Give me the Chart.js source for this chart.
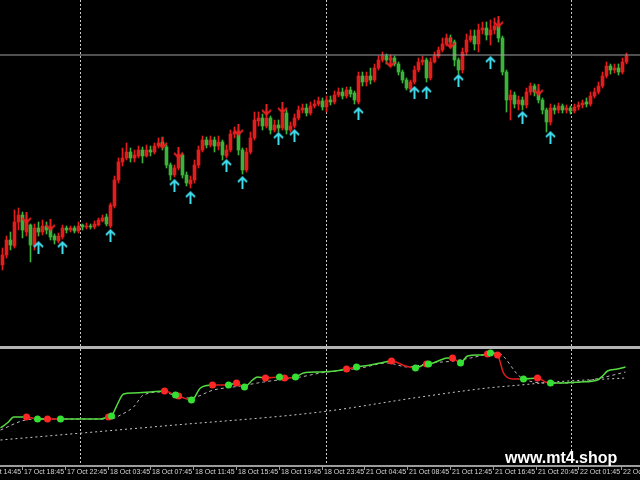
<!DOCTYPE html>
<html>
<head>
<meta charset="utf-8">
<script src="https://cdn.jsdelivr.net/npm/chart.js@4"></script>
<style>
  html, body { margin: 0; padding: 0; background: #000; overflow: hidden; }
  canvas { display: block; }
  #sep { height: 3px; background: #b4b4b4; }
</style>
</head>
<body>
<canvas id="main" width="640" height="346"></canvas>
<div id="sep"></div>
<canvas id="ind" width="640" height="131"></canvas>
<script>
// --- price bars (M15) ---
const opens = [
  100.80,100.90,101.05,100.99,101.23,101.30,101.13,101.20,100.99,101.17,
  101.13,101.19,101.17,101.09,101.04,101.08,101.17,101.15,101.17,101.14,
  101.20,101.18,101.19,101.18,101.20,101.24,101.28,101.19,101.39,101.65,
  101.83,101.87,101.93,101.87,101.89,101.95,101.89,101.95,101.93,101.99,
  102.03,101.98,101.80,101.70,101.77,101.90,101.70,101.61,101.65,101.80,
  101.95,102.05,102.00,102.05,101.99,102.03,101.89,101.95,102.11,102.13,
  101.95,101.75,101.93,102.07,102.24,102.27,102.19,102.27,102.15,102.20,
  102.17,102.32,102.15,102.19,102.27,102.35,102.37,102.32,102.39,102.41,
  102.44,102.38,102.45,102.43,102.50,102.53,102.49,102.55,102.52,102.43,
  102.69,102.63,102.69,102.65,102.77,102.85,102.89,102.85,102.87,102.81,
  102.73,102.65,102.56,102.63,102.75,102.83,102.85,102.67,102.83,102.89,
  102.95,103.01,103.07,103.03,102.85,102.75,102.93,103.05,103.09,103.01,
  103.15,103.17,103.10,103.15,103.19,103.07,102.73,102.45,102.50,102.41,
  102.45,102.40,102.53,102.59,102.53,102.45,102.35,102.23,102.37,102.35,
  102.39,102.35,102.37,102.34,102.38,102.40,102.43,102.41,102.49,102.53,
  102.59,102.69,102.79,102.75,102.77,102.73,102.83
];
const highs = [
  100.97,101.09,101.13,101.35,101.37,101.33,101.30,101.21,101.21,101.23,
  101.25,101.23,101.19,101.11,101.12,101.20,101.19,101.19,101.19,101.23,
  101.21,101.22,101.21,101.24,101.27,101.30,101.31,101.42,101.69,101.87,
  101.97,102.02,101.97,101.95,101.99,101.98,102.00,101.99,102.02,102.07,
  102.08,102.00,101.82,101.80,101.95,101.92,101.73,101.69,101.85,101.99,
  102.09,102.08,102.09,102.08,102.09,102.05,102.00,102.15,102.18,102.15,
  101.97,101.97,102.13,102.33,102.33,102.31,102.35,102.29,102.25,102.25,
  102.37,102.35,102.23,102.31,102.39,102.41,102.41,102.43,102.45,102.48,
  102.47,102.49,102.49,102.54,102.57,102.57,102.58,102.58,102.54,102.73,
  102.73,102.73,102.77,102.81,102.89,102.93,102.91,102.90,102.89,102.83,
  102.75,102.67,102.65,102.79,102.87,102.89,102.87,102.87,102.93,102.98,
  103.07,103.11,103.10,103.05,102.87,102.97,103.11,103.15,103.15,103.21,
  103.23,103.23,103.25,103.27,103.25,103.09,102.75,102.55,102.53,102.49,
  102.48,102.57,102.62,102.61,102.56,102.47,102.37,102.41,102.40,102.42,
  102.41,102.40,102.39,102.41,102.43,102.45,102.47,102.53,102.57,102.63,
  102.73,102.83,102.81,102.81,102.81,102.87,102.92
];
const lows = [
  100.75,100.87,100.95,100.97,101.15,101.07,101.09,100.83,100.95,101.09,
  101.10,101.11,101.05,101.01,101.02,101.06,101.12,101.13,101.12,101.12,
  101.15,101.16,101.16,101.16,101.19,101.23,101.19,101.17,101.37,101.62,
  101.79,101.85,101.83,101.83,101.87,101.82,101.88,101.89,101.91,101.97,
  101.95,101.77,101.65,101.68,101.75,101.67,101.59,101.57,101.62,101.77,
  101.93,101.97,101.98,101.93,101.95,101.85,101.87,101.93,102.07,101.90,
  101.71,101.73,101.91,102.05,102.19,102.15,102.17,102.11,102.13,102.13,
  102.15,102.11,102.13,102.17,102.25,102.32,102.29,102.30,102.37,102.39,
  102.35,102.33,102.40,102.41,102.48,102.46,102.47,102.48,102.41,102.41,
  102.59,102.59,102.61,102.63,102.75,102.83,102.81,102.81,102.79,102.70,
  102.62,102.55,102.53,102.61,102.73,102.80,102.63,102.65,102.82,102.87,
  102.93,102.99,102.97,102.79,102.71,102.72,102.90,103.03,102.95,102.93,
  103.11,103.05,103.00,103.11,103.03,102.70,102.33,102.25,102.37,102.35,
  102.35,102.37,102.50,102.49,102.42,102.31,102.13,102.20,102.31,102.32,
  102.32,102.32,102.31,102.32,102.35,102.37,102.38,102.39,102.47,102.51,
  102.57,102.67,102.71,102.72,102.70,102.71,102.81
];
const closes = [
  100.90,101.05,101.00,101.23,101.30,101.15,101.23,101.00,101.17,101.13,
  101.19,101.15,101.08,101.05,101.09,101.17,101.15,101.17,101.14,101.19,
  101.18,101.19,101.18,101.21,101.25,101.27,101.21,101.40,101.65,101.83,
  101.87,101.93,101.87,101.90,101.95,101.89,101.95,101.93,101.99,102.02,
  101.98,101.80,101.70,101.77,101.90,101.70,101.62,101.65,101.80,101.95,
  102.05,102.00,102.05,101.99,102.03,101.90,101.95,102.11,102.13,101.95,
  101.75,101.93,102.07,102.25,102.27,102.19,102.27,102.15,102.20,102.17,
  102.32,102.15,102.19,102.27,102.35,102.37,102.32,102.39,102.41,102.44,
  102.38,102.45,102.43,102.50,102.53,102.49,102.55,102.51,102.45,102.69,
  102.63,102.69,102.65,102.77,102.85,102.89,102.85,102.87,102.81,102.73,
  102.65,102.57,102.63,102.75,102.83,102.85,102.67,102.83,102.89,102.95,
  103.01,103.07,103.03,102.85,102.75,102.93,103.05,103.09,103.01,103.15,
  103.17,103.10,103.15,103.19,103.07,102.73,102.45,102.50,102.41,102.45,
  102.40,102.53,102.59,102.53,102.45,102.35,102.23,102.37,102.35,102.39,
  102.35,102.37,102.34,102.38,102.40,102.42,102.41,102.49,102.53,102.59,
  102.69,102.79,102.75,102.77,102.73,102.83,102.89
];
const priceLine = 102.90;

// signal arrows: bar index + price
const upIdx = [9, 15, 27, 43, 47, 56, 60, 69, 73, 89, 103, 106, 114, 122, 130, 137];
const upPrice = [100.98, 100.98, 101.10, 101.60, 101.48, 101.80, 101.63, 102.07, 102.10, 102.32, 102.53, 102.53, 102.65, 102.83, 102.28, 102.08];
const downIdx = [6, 12, 40, 44, 59, 66, 70, 97, 112, 124, 134];
const downPrice = [101.27, 101.20, 102.02, 101.92, 102.15, 102.35, 102.37, 102.83, 103.02, 103.23, 102.55];

// sub-window indicator
const fastIdx = [-0.5,1.5,2.75,4.5,6,8.75,11.25,14.5,19.5,24.5,26.5,27.25,28.75,30.25,32.75,37,40.5,43.25,44,47.25,
  49.5,52.5,56.5,58.5,60.5,62.5,63.75,65.75,69.25,70.5,73.25,75.25,79.5,83.25,86,88.5,92,94.5,97.25,100.75,
  103.25,106,106.5,109.5,111.25,112.5,114.5,116.25,119.5,121.25,122,123.75,125.25,127.5,130.25,133.75,135.75,137,139.5,144.5,
  148.75,150,151.25,153.75,155.75];
const fastVal = [34,40,45,45,45,43,43,43,43,43,45,46,58,68,69,70,71,67,66,62,
  74,77,77,79,75,82,85,84,85,84,85,89,90,91,93,95,97,99,101,96,
  94,98,98,102,104,104,99,106,107,108,109,107,89,83,83,84,80,79,79,80,
  82,86,91,93,95];
const redIdx = [6, 11.25, 26.5, 40.5, 44, 52.5, 58.5, 65.75, 70.5, 86, 97.25, 106, 112.5, 121.25, 123.75, 133.75];
const redVal = [45, 43, 45, 71, 66, 77, 79, 84, 84, 93, 101, 98, 104, 108, 107, 84];
const greenIdx = [8.75, 14.5, 27.25, 43.25, 47.25, 56.5, 60.5, 69.25, 73.25, 88.5, 103.25, 106.5, 114.5, 122, 130.25, 137];
const greenVal = [43, 43, 46, 67, 62, 77, 75, 85, 85, 95, 94, 98, 99, 109, 83, 79];
const slowIdx = [-0.5,5.75,9.5,27,29.5,32.75,35.25,40.25,43.25,47,52.75,59.5,65.25,74.5,79.5,89.5,96.25,101.25,107,112.75,117,123.75,129.5,136.25,142,149.5,155.75];
const slowVal = [32,42,43,43,47,55,67,70,66,64,72,76,80,85,89,94,99,95,99,101,104,109,85,79,79,84,90];
const longIdx = [-0.5, 40.25, 79.5, 104.5, 121.25, 129.5, 137.75, 155.75];
const longVal = [22, 36, 50, 65, 74, 77, 80, 84];

// day separators and time axis
const sepIdx = [19.25, 80.75, 142];
const timeTickIdx = [-5.83, 4.88, 15.58, 26.28, 36.98, 47.68, 58.38, 69.08, 79.78, 90.48, 101.18, 111.88, 122.58, 133.28, 143.98, 154.68];
const timeLabels = ['17 Oct 14:45','17 Oct 18:45','17 Oct 22:45','18 Oct 03:45','18 Oct 07:45','18 Oct 11:45','18 Oct 15:45','18 Oct 19:45',
  '18 Oct 23:45','21 Oct 04:45','21 Oct 08:45','21 Oct 12:45','21 Oct 16:45','21 Oct 20:45','22 Oct 01:45','22 Oct 05:45'];

const UP = '#e41c1c', DOWN = '#3cb43c';
const X_MIN = -0.625, X_MAX = 159.375;

function arrowImg(color, up) {
  const c = document.createElement('canvas');
  c.width = 11; c.height = 13;
  const g = c.getContext('2d');
  g.strokeStyle = color; g.lineWidth = 2;
  g.beginPath();
  if (up) {
    g.moveTo(5.5, 13); g.lineTo(5.5, 2);
    g.moveTo(1, 6.5); g.lineTo(5.5, 2); g.lineTo(10, 6.5);
  } else {
    g.moveTo(5.5, 0); g.lineTo(5.5, 11);
    g.moveTo(1, 6.5); g.lineTo(5.5, 11); g.lineTo(10, 6.5);
  }
  g.stroke();
  return c;
}

const sepPlugin = {
  id: 'periodSep',
  beforeDatasetsDraw(chart) {
    const { ctx, chartArea, scales: { x } } = chart;
    ctx.save();
    ctx.strokeStyle = '#c8c8c8';
    ctx.lineWidth = 1;
    ctx.setLineDash([2, 2]);
    sepIdx.forEach(v => {
      const px = Math.round(x.getPixelForValue(v)) + 0.5;
      ctx.beginPath();
      ctx.moveTo(px, chartArea.top);
      ctx.lineTo(px, chartArea.bottom);
      ctx.stroke();
    });
    ctx.restore();
  }
};

const timeAxis = {
  id: 'timeAxis',
  afterDraw(chart) {
    const { ctx, chartArea, scales: { x } } = chart;
    const y0 = chartArea.bottom + 1;
    ctx.save();
    ctx.fillStyle = '#9c9c9c';
    ctx.fillRect(0, y0, chart.width, 2);
    ctx.font = '7px "Liberation Sans", Arial, sans-serif';
    ctx.textBaseline = 'alphabetic';
    timeTickIdx.forEach((v, i) => {
      const px = Math.round(x.getPixelForValue(v));
      ctx.fillStyle = '#9c9c9c';
      ctx.fillRect(px, y0 + 2, 1, 3);
      ctx.fillStyle = '#d4d4d4';
      ctx.fillText(timeLabels[i], px + 2, y0 + 9);
    });
    ctx.font = 'bold 16px "Liberation Sans", Arial, sans-serif';
    ctx.fillStyle = '#ffffff';
    ctx.fillText('www.mt4.shop', 505, chartArea.bottom - 1);
    ctx.restore();
  }
};

const barColor = c => closes[c.dataIndex] >= opens[c.dataIndex] ? UP : DOWN;

new Chart(document.getElementById('main'), {
  type: 'bar',
  data: {
    datasets: [
      { type: 'line', data: upIdx.map((x, i) => ({ x, y: upPrice[i] })), showLine: false,
        pointStyle: arrowImg('#3fdcec', true), pointRadius: 6 },
      { type: 'line', data: downIdx.map((x, i) => ({ x, y: downPrice[i] })), showLine: false,
        pointStyle: arrowImg('#e42020', false), pointRadius: 6 },
      { type: 'line', data: [{ x: X_MIN, y: priceLine }, { x: X_MAX, y: priceLine }],
        borderColor: '#a0a0a0', borderWidth: 1, pointRadius: 0 },
      { data: opens.map((o, i) => ({ x: i, y: [o, closes[i]] })), backgroundColor: barColor,
        barThickness: 3, minBarLength: 1, grouped: false },
      { data: lows.map((l, i) => ({ x: i, y: [l, highs[i]] })), backgroundColor: barColor,
        barThickness: 1, grouped: false }
    ]
  },
  options: {
    responsive: false, animation: false, events: [],
    layout: { padding: 0, autoPadding: false },
    plugins: { legend: { display: false }, tooltip: { enabled: false } },
    scales: {
      x: { type: 'linear', min: X_MIN, max: X_MAX, display: false, offset: false, grid: { offset: false } },
      y: { min: 99.99, max: 103.45, display: false }
    }
  },
  plugins: [sepPlugin]
});

const sigs = redIdx.map(v => [v, UP]).concat(greenIdx.map(v => [v, '#55dc40'])).sort((a, b) => a[0] - b[0]);
function trendColor(x) {
  let col = '#55dc40';
  sigs.forEach(s => { if (s[0] <= x + 1e-6) col = s[1]; });
  return col;
}

new Chart(document.getElementById('ind'), {
  type: 'line',
  data: {
    datasets: [
      { data: greenIdx.map((x, i) => ({ x, y: greenVal[i] })), showLine: false,
        pointRadius: 3.5, pointBackgroundColor: '#33e033', pointBorderWidth: 0 },
      { data: redIdx.map((x, i) => ({ x, y: redVal[i] })), showLine: false,
        pointRadius: 3.5, pointBackgroundColor: '#ff2626', pointBorderWidth: 0 },
      { data: fastIdx.map((x, i) => ({ x, y: fastVal[i] })), borderColor: '#55dc40', borderWidth: 1.5,
        pointRadius: 0, cubicInterpolationMode: 'monotone',
        segment: { borderColor: c => trendColor(c.p0.parsed.x) } },
      { data: slowIdx.map((x, i) => ({ x, y: slowVal[i] })), borderColor: '#b4b4b4', borderWidth: 1,
        borderDash: [3, 3], pointRadius: 0, cubicInterpolationMode: 'monotone' },
      { data: longIdx.map((x, i) => ({ x, y: longVal[i] })), borderColor: '#c8c8c8', borderWidth: 1,
        borderDash: [2, 3], pointRadius: 0, cubicInterpolationMode: 'monotone' }
    ]
  },
  options: {
    responsive: false, animation: false, events: [],
    layout: { padding: { bottom: 16 }, autoPadding: false },
    plugins: { legend: { display: false }, tooltip: { enabled: false } },
    scales: {
      x: { type: 'linear', min: X_MIN, max: X_MAX, display: false },
      y: { min: -2, max: 113, display: false }
    }
  },
  plugins: [sepPlugin, timeAxis]
});
</script>
</body>
</html>
